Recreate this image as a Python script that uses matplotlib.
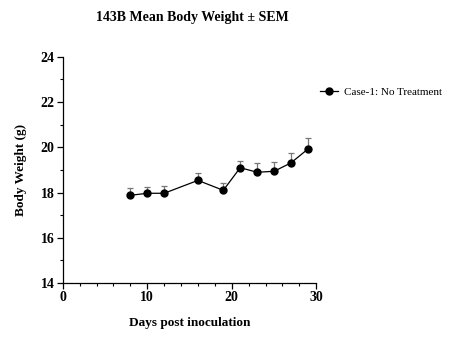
import matplotlib
matplotlib.use("Agg")
import matplotlib.pyplot as plt
from matplotlib.ticker import MultipleLocator

days = [8, 10, 12, 16, 19, 21, 23, 25, 27, 29]
weight = [17.88, 17.97, 17.97, 18.54, 18.10, 19.10, 18.90, 18.94, 19.31, 19.92]
sem = [0.31, 0.29, 0.33, 0.34, 0.31, 0.28, 0.42, 0.43, 0.46, 0.48]
series_name = "Case-1: No Treatment"

plt.rcParams['font.family'] = ['Liberation Serif', 'DejaVu Serif']

fig = plt.figure(figsize=(4.55, 3.53), dpi=100)
ax = fig.add_axes([0.138, 0.198, 0.557, 0.641])

ax.errorbar(days, weight, yerr=[[0]*len(sem), sem], fmt='none', ecolor='#777777',
            elinewidth=0.9, capsize=2.5, capthick=0.9, zorder=2)
ax.plot(days, weight, '-o', color='black', lw=0.9, ms=5, label=series_name, zorder=3)

ax.set_xlim(0, 30)
ax.set_ylim(14, 24)
ax.xaxis.set_major_locator(MultipleLocator(10))
ax.xaxis.set_minor_locator(MultipleLocator(2))
ax.yaxis.set_major_locator(MultipleLocator(2))
ax.yaxis.set_minor_locator(MultipleLocator(1))
for s in ['top', 'right']:
    ax.spines[s].set_visible(False)
for s in ['left', 'bottom']:
    ax.spines[s].set_linewidth(0.9)
ax.tick_params(which='major', length=4, width=0.9, labelsize=10, pad=2)
ax.tick_params(which='minor', length=2, width=0.8)
for lbl in ax.get_xticklabels() + ax.get_yticklabels():
    lbl.set_fontweight('bold')

ax.set_xlabel('Days post inoculation', fontsize=9.5, fontweight='bold', labelpad=9)
ax.set_ylabel('Body Weight (g)', fontsize=9.5, fontweight='bold', labelpad=10)
fig.text(0.422, 0.95, '143B Mean Body Weight \u00b1 SEM', ha='center', va='center',
         fontsize=10, fontweight='bold')

leg = fig.legend(loc='center left', bbox_to_anchor=(320/455, 1 - 92/353), frameon=False,
                 fontsize=8, handlelength=1.6, handletextpad=0.6,
                 borderaxespad=0, borderpad=0)

fig.savefig('out.png', dpi=100)
